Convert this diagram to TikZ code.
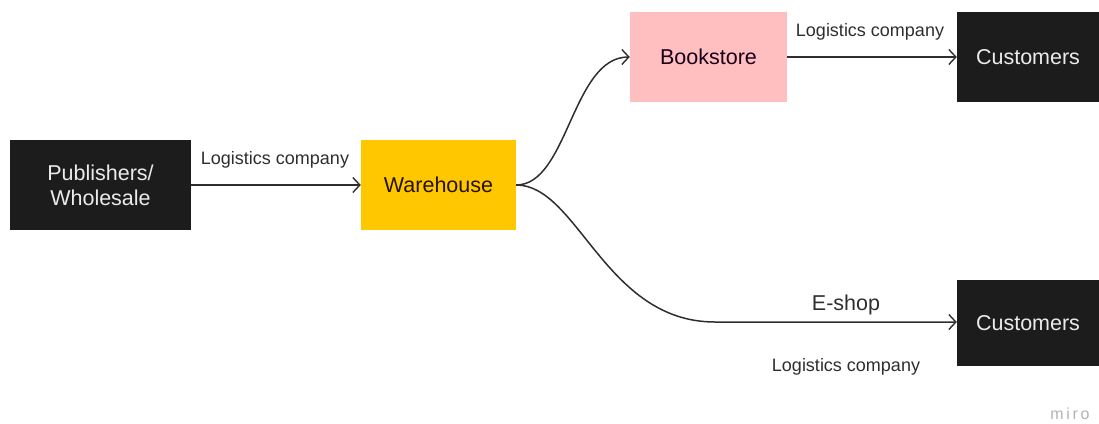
\documentclass[tikz,border=0pt]{standalone}
\usepackage{fontspec}
\setmainfont{Liberation Sans}
\usetikzlibrary{arrows.meta}
\definecolor{boxblack}{HTML}{1C1C1C}
\definecolor{whyellow}{HTML}{FFC700}
\definecolor{bspink}{HTML}{FFBFC0}
\definecolor{linegray}{HTML}{2E2E2E}
\begin{document}
\begin{tikzpicture}[x=1pt,y=-1pt]
\tikzstyle{box}=[minimum height=90pt, inner sep=0pt, align=center, font=\fontsize{21.5}{25}\selectfont]
\tikzstyle{dark}=[box, fill=boxblack, text=white!92!black]
\tikzstyle{flow}=[draw=linegray, line width=1.5pt, -{Straight Barb[length=7pt,width=15pt,line width=1.4pt]}]
\tikzstyle{lab}=[text=linegray, font=\fontsize{18}{21}\selectfont]

\useasboundingbox (0,0) rectangle (1099,423);

\node[dark, minimum width=181pt] (pub) at (100.5,185) {Publishers/\\Wholesale};
\node[box, fill=whyellow, text=black!85!orange, minimum width=155pt] (wh) at (438.5,185) {Warehouse};
\node[box, fill=bspink, text=black!80!violet, minimum width=157pt] (book) at (708.5,57) {Bookstore};
\node[dark, minimum width=142pt] (ctop) at (1028,57) {Customers};
\node[dark, minimum width=142pt, minimum height=86pt] (cbot) at (1028,323) {Customers};

\coordinate (flat) at (715,322);

\draw[flow] (pub) -- (wh);
\draw[flow] (wh.east) .. controls (568,185) and (572,57) .. (book.west);
\draw[flow] (book) -- (ctop);
\draw[flow] (wh.east) .. controls (578,185) and (605,322) .. (flat) -- (cbot.west |- flat);

\node[lab] (l1) at (275,160) {Logistics company};
\node[lab] (l2) at (870,32) {Logistics company};
\node[lab, font=\fontsize{21.5}{25}\selectfont] (eshop) at (846,305) {E-shop};
\node[lab] (l3) at (846,367) {Logistics company};
\node[text=black!30, font=\fontsize{16}{19}\selectfont] (miro) at (1070,414) {m\,i\,r\,o};

\end{tikzpicture}
\end{document}
